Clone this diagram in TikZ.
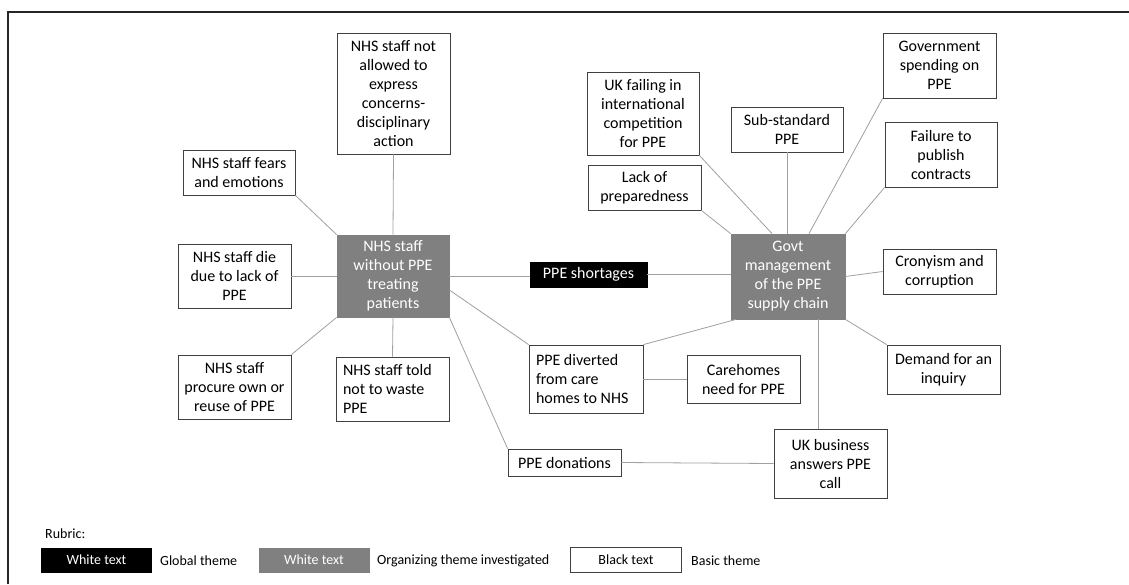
\documentclass[tikz,border=0pt]{standalone}
\usepackage{fontspec}
\setmainfont{Carlito}
\definecolor{boxc}{HTML}{404040}
\definecolor{linec}{HTML}{A0A0A0}
\definecolor{orgc}{HTML}{808080}
\begin{document}
\begin{tikzpicture}[x=1pt,y=-1pt,
  box/.style={draw=boxc, fill=white, align=center, inner sep=0pt, line width=0.8pt,
    font=\fontsize{16}{19}\selectfont, text=black},
  lbox/.style={box, align=flush left, inner xsep=7pt},
  org/.style={box, fill=orgc, draw=orgc, text=white},
  glob/.style={box, fill=black, draw=black, text=white},
  conn/.style={draw=linec, line width=0.8pt},
  legtext/.style={font=\fontsize{14}{16}\selectfont, anchor=west, inner sep=0pt},
  legbox/.style={minimum width=111pt, minimum height=25pt, inner sep=0pt, font=\fontsize{14}{16}\selectfont}
]
\useasboundingbox (0,0) rectangle (1129,584);
\fill[white] (0,0) rectangle (1129,584);
\draw[line width=2.2pt, black!85] (8,584) -- (8,12) -- (1129,12);

% left cluster
\node[org, minimum width=112pt, minimum height=82pt] (nhs) at (393,276) {NHS staff\\without PPE\\treating\\patients};
\node[box, minimum width=113pt, minimum height=121pt] (notallowed) at (393.5,93.5) {NHS staff not\\allowed to\\express\\concerns-\\disciplinary\\action};
\node[box, minimum width=112pt, minimum height=45pt] (fears) at (239,172.5) {NHS staff fears\\and emotions};
\node[box, minimum width=113pt, minimum height=64pt] (die) at (234.5,276) {NHS staff die\\due to lack of\\PPE};
\node[box, minimum width=113pt, minimum height=64pt] (procure) at (234.5,387) {NHS staff\\procure own or\\reuse of PPE};
\node[lbox, text width=99pt, minimum height=64pt] (told) at (392.5,389) {NHS staff told\\not to waste\\PPE};

% centre
\node[glob, minimum width=117pt, minimum height=25pt] (short) at (588.5,274.5) {PPE shortages};

% right cluster
\node[org, minimum width=114pt, minimum height=85pt] (govt) at (788,276.5) {Govt\\management\\of the PPE\\supply chain};
\node[box, minimum width=112pt, minimum height=83pt] (ukfail) at (643,113.5) {UK failing in\\international\\competition\\for PPE};
\node[box, minimum width=113pt, minimum height=45pt] (lack) at (644.5,187.5) {Lack of\\preparedness};
\node[box, minimum width=112pt, minimum height=45pt] (sub) at (787,129.5) {Sub-standard\\PPE};
\node[box, minimum width=113pt, minimum height=65pt] (gspend) at (939.5,65.5) {Government\\spending on\\PPE};
\node[box, minimum width=112pt, minimum height=65pt] (failure) at (941,154.5) {Failure to\\publish\\contracts};
\node[box, minimum width=113pt, minimum height=45pt] (crony) at (939.5,271.5) {Cronyism and\\corruption};
\node[box, minimum width=113pt, minimum height=49pt] (demand) at (943.5,369.5) {Demand for an\\inquiry};
\node[lbox, text width=100pt, minimum height=68pt] (diverted) at (586,379) {PPE diverted\\from care\\homes to NHS};
\node[box, minimum width=113pt, minimum height=48pt] (care) at (743.5,379) {Carehomes\\need for PPE};
\node[box, minimum width=113pt, minimum height=69pt] (ukbiz) at (830.5,463.5) {UK business\\answers PPE\\call};
\node[box, minimum width=113pt, minimum height=27pt] (don) at (564.5,462.5) {PPE donations};

% connectors: left
\draw[conn] (notallowed.south) -- (nhs.north);
\draw[conn] (fears.south east) -- (nhs.north west);
\draw[conn] (die.east) -- (nhs.west);
\draw[conn] (procure.north east) -- (nhs.south west);
\draw[conn] (nhs.south) -- (told.north);
\draw[conn] (nhs.east) -- (nhs.east -| short.west);
\draw[conn] ([yshift=-14pt]nhs.east) -- (diverted.north west);
\draw[conn] (nhs.south east) -- (don.north west);
% connectors: right
\draw[conn] (short.east) -- (short.east -| govt.west);
\draw[conn] (ukfail.south east) -- ([xshift=-16pt]govt.north);
\draw[conn] (lack.south east) -- (govt.north west);
\draw[conn] (sub.south) -- (sub.south |- govt.north);
\draw[conn] (gspend.south west) -- ([xshift=21pt]govt.north);
\draw[conn] (failure.south west) -- (govt.north east);
\draw[conn] (crony.west) -- (govt.east);
\draw[conn] (demand.north west) -- (govt.south east);
\draw[conn] ([xshift=-12pt]ukbiz.north) -- ([xshift=-12pt]ukbiz.north |- govt.south);
\draw[conn] ([xshift=-52pt]govt.south) -- (diverted.north east);
\draw[conn] (diverted.east) -- (care.west);
\draw[conn] (don.east) -- (ukbiz.west);

% legend
\node[legtext] (rubric) at (45,534) {Rubric:};
\node[legbox, fill=black, text=white] (lg1) at (96.5,560) {White text};
\node[legtext] (lt1) at (160,561) {Global theme};
\node[legbox, fill=orgc, text=white] (lg2) at (314,560) {White text};
\node[legtext] (lt2) at (377,561) {Organizing theme investigated};
\node[legbox, draw=boxc, line width=0.8pt, fill=white] (lg3) at (626,560) {Black text};
\node[legtext] (lt3) at (691,561) {Basic theme};
\end{tikzpicture}
\end{document}
